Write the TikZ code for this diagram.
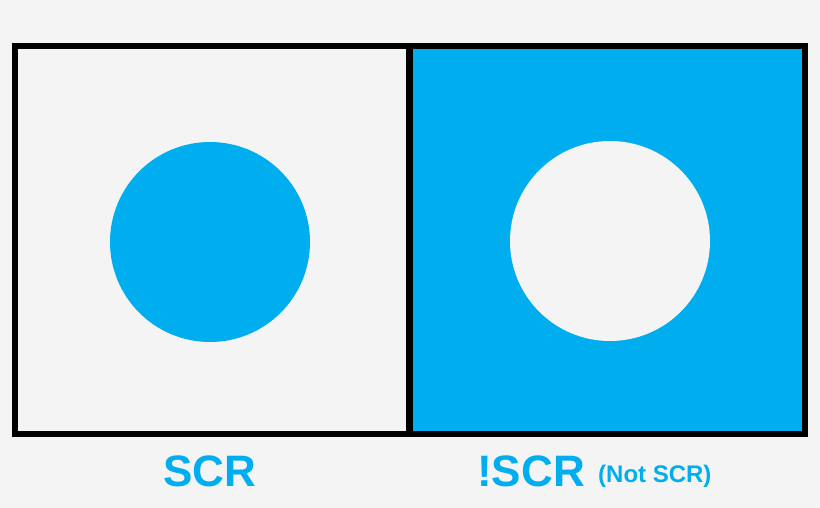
\documentclass[tikz,border=0pt]{standalone}
\usepackage{fontspec}
\setmainfont{Liberation Sans}
\definecolor{bl}{HTML}{00AEEF}
\definecolor{bg}{HTML}{F4F4F4}
\begin{document}
\begin{tikzpicture}[x=1pt,y=-1pt,lab/.style={text=bl,font=\bfseries,inner sep=0pt}]
\fill[bg] (0,0) rectangle (820,508);
\useasboundingbox (0,0) rectangle (820,508);
\fill[bl] (409,46) rectangle (805,434);
\draw[line width=6] (15,46) rectangle (805,434);
\draw[line width=7] (409,46) -- (409,434);
\fill[bl] (210,242) circle (100);
\fill[bg] (610,241) circle (100);
\node[lab,font=\fontsize{44}{44}\bfseries] (a) at (210,471) {SCR};
\node[lab,font=\fontsize{44}{44}\bfseries,anchor=east] (b) at (585,471) {!SCR};
\node[lab,font=\fontsize{24}{24}\bfseries,anchor=west] (c) at (598,476) {(Not SCR)};
\end{tikzpicture}
\end{document}
